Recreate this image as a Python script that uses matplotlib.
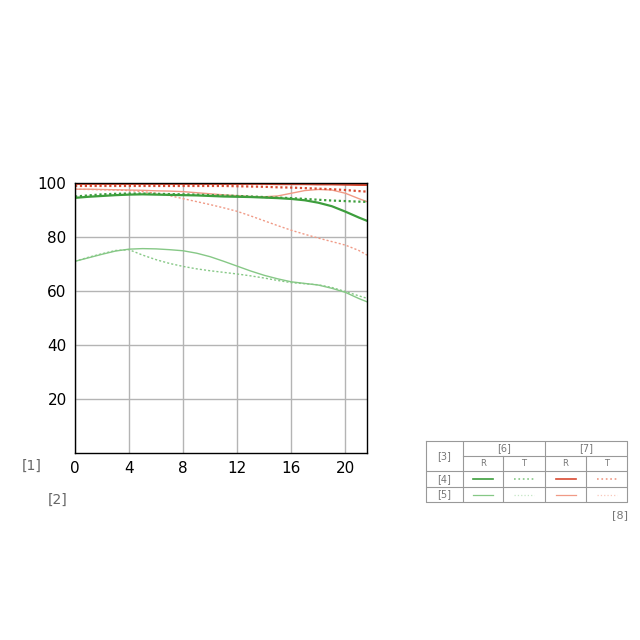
import matplotlib
matplotlib.use("Agg")
import matplotlib.pyplot as plt

# image height (mm) and MTF (%)
x_pts = [0, 1, 2, 3, 4, 5, 6, 7, 8, 9, 10, 11, 12, 13, 14, 15, 16, 17, 18, 19, 20, 21, 21.6]

green_r_10 = [94.5, 94.9, 95.2, 95.5, 95.7, 95.8, 95.7, 95.6, 95.5, 95.4, 95.2, 95.0,
              94.9, 94.8, 94.6, 94.4, 94.1, 93.6, 92.7, 91.4, 89.4, 87.2, 86.0]
green_t_10 = [95.0, 95.4, 95.8, 96.0, 96.1, 96.1, 96.0, 95.9, 95.8, 95.7, 95.5, 95.4,
              95.2, 95.0, 94.8, 94.6, 94.4, 94.1, 93.8, 93.5, 93.3, 93.1, 93.0]
green_r_30 = [71.0, 72.3, 73.6, 74.8, 75.5, 75.7, 75.6, 75.3, 74.9, 74.0, 72.7, 71.0,
              69.2, 67.4, 65.8, 64.5, 63.4, 62.8, 62.2, 61.0, 59.5, 57.2, 56.0]
green_t_30 = [71.0, 72.5, 73.8, 75.0, 75.3, 73.3, 71.6, 70.2, 69.1, 68.2, 67.5, 66.9,
              66.3, 65.6, 64.8, 63.9, 63.1, 62.7, 62.3, 61.3, 59.8, 58.2, 57.3]
red_r_10 = [99.7, 99.7, 99.7, 99.7, 99.7, 99.7, 99.7, 99.7, 99.7, 99.7, 99.7, 99.7,
            99.7, 99.7, 99.7, 99.6, 99.6, 99.6, 99.5, 99.5, 99.4, 99.3, 99.3]
red_t_10 = [98.9, 98.9, 98.9, 98.9, 98.9, 98.9, 98.9, 98.9, 98.9, 98.9, 98.9, 98.9,
            98.8, 98.7, 98.6, 98.4, 98.3, 98.1, 97.9, 97.7, 97.4, 97.0, 96.8]
red_r_30 = [97.7, 97.7, 97.6, 97.5, 97.4, 97.3, 97.1, 97.0, 96.8, 96.4, 96.0, 95.6,
            95.3, 95.0, 94.9, 95.2, 96.2, 97.2, 97.6, 97.4, 96.2, 94.2, 93.1]
red_t_30 = [97.7, 97.6, 97.5, 97.4, 97.2, 96.8, 96.2, 95.3, 94.2, 93.1, 92.0, 90.8,
            89.5, 87.8, 86.0, 84.2, 82.5, 81.0, 79.6, 78.3, 77.0, 75.0, 73.3]

x_ticks = [0, 4, 8, 12, 16, 20]
y_ticks = [20, 40, 60, 80, 100]

col_groups = ["[6]", "[7]"]
col_labels = ["R", "T", "R", "T"]
row_labels = ["[4]", "[5]"]

GREEN = "#3d9e3d"
GREEN_L = "#86c886"
RED = "#d94a32"
RED_L = "#f09a86"

fig = plt.figure(figsize=(6.4, 6.4), dpi=100)
ax = fig.add_axes([75 / 640, 1 - 453 / 640, 292 / 640, 270 / 640])

ax.plot(x_pts, green_r_30, color=GREEN_L, lw=1.0)
ax.plot(x_pts, green_t_30, color=GREEN_L, lw=1.0, ls=(0, (1.5, 1.5)))
ax.plot(x_pts, red_t_30, color=RED_L, lw=1.0, ls=(0, (1.5, 1.5)))
ax.plot(x_pts, red_r_30, color=RED_L, lw=1.0)
ax.plot(x_pts, green_t_10, color=GREEN, lw=1.6, ls=(0, (1, 1.2)))
ax.plot(x_pts, green_r_10, color=GREEN, lw=1.6)
ax.plot(x_pts, red_t_10, color=RED, lw=1.6, ls=(0, (1, 1.2)))
ax.plot(x_pts, red_r_10, color=RED, lw=1.6)

ax.set_xlim(0, 21.6)
ax.set_ylim(0, 100)
ax.set_xticks(x_ticks)
ax.set_yticks(y_ticks)
ax.tick_params(length=0, labelsize=11, pad=6)
ax.grid(True, color="#b4b4b4", lw=1.0)
for s in ax.spines.values():
    s.set_color("black")
    s.set_linewidth(1.0)

fig.text(22 / 640, 1 - 466 / 640, "[1]", fontsize=10, color="#666666", va="center")
fig.text(48 / 640, 1 - 500 / 640, "[2]", fontsize=10, color="#666666", va="center")
fig.text(628 / 640, 1 - 515 / 640, "[8]", fontsize=8, color="#777777", va="center", ha="right")

# legend table, drawn in pixel-like coordinates
tx = fig.add_axes([426 / 640, 1 - 502 / 640, 201 / 640, 61 / 640])
tx.set_xlim(426, 627)
tx.set_ylim(502, 441)
tx.axis("off")
cols = [426, 463, 503, 545, 586, 627]
rows = [441, 456, 471, 487, 502]
lc = "#999999"
tx.plot([426, 627, 627, 426, 426], [441, 441, 502, 502, 441], color=lc, lw=0.8, clip_on=False)
tx.plot([463, 627], [456, 456], color=lc, lw=0.8)
for yy in rows[2:4]:
    tx.plot([426, 627], [yy, yy], color=lc, lw=0.8)
tx.plot([463, 463], [441, 502], color=lc, lw=0.8)
tx.plot([545, 545], [441, 502], color=lc, lw=0.8)
tx.plot([503, 503], [456, 502], color=lc, lw=0.8)
tx.plot([586, 586], [456, 502], color=lc, lw=0.8)

tc = "#777777"
tx.text(444.5, 456, "[3]", ha="center", va="center", fontsize=7, color=tc)
tx.text(504, 448.5, col_groups[0], ha="center", va="center", fontsize=7, color=tc)
tx.text(586, 448.5, col_groups[1], ha="center", va="center", fontsize=7, color=tc)
for i, lab in enumerate(col_labels):
    tx.text((cols[i + 1] + cols[i + 2]) / 2, 463.5, lab, ha="center", va="center", fontsize=6, color=tc)
for j, lab in enumerate(row_labels):
    tx.text(444.5, (rows[j + 2] + rows[j + 3]) / 2, lab, ha="center", va="center", fontsize=7, color=tc)

styles = [
    [(GREEN, "-"), (GREEN_L, ":"), (RED, "-"), (RED_L, ":")],
    [(GREEN_L, "-"), ("#c5e6c5", ":"), (RED_L, "-"), ("#f8c8bc", ":")],
]
for j in range(2):
    yy = (rows[j + 2] + rows[j + 3]) / 2
    for i in range(4):
        c, ls = styles[j][i]
        xc = (cols[i + 1] + cols[i + 2]) / 2
        tx.plot([xc - 10, xc + 10], [yy, yy], color=c, ls=ls, lw=1.2 if j == 0 else 0.9)

fig.savefig("out.png", dpi=100)
